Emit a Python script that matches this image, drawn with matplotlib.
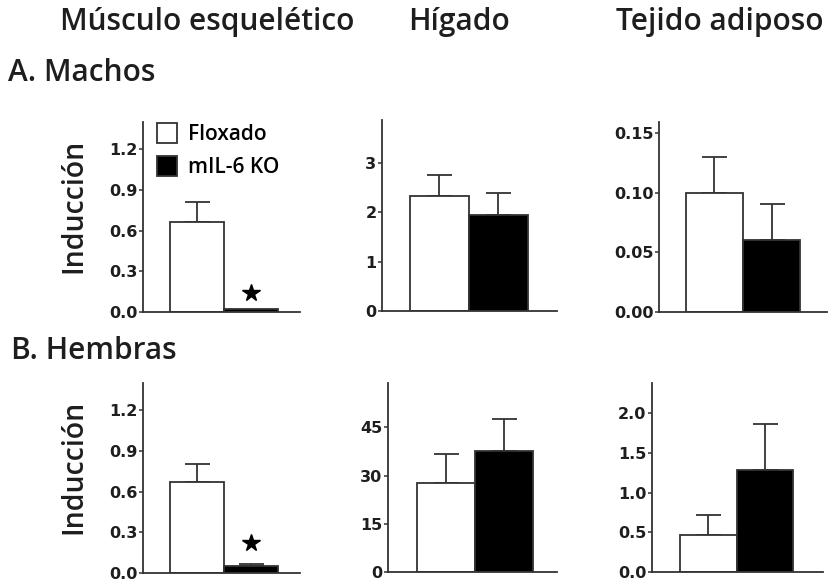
import numpy as np
import matplotlib.pyplot as plt
from matplotlib.patches import Patch

plt.rcParams['font.family'] = ['Open Sans', 'DejaVu Sans']

# Data (mean, upper error)
groups = ['Floxado', 'mIL-6 KO']
tissues = ['Músculo esquelético', 'Hígado', 'Tejido adiposo']

machos_mean = [[0.66, 0.02], [2.32, 1.95], [0.100, 0.060]]
machos_err = [[0.15, 0.00], [0.44, 0.44], [0.030, 0.030]]
hembras_mean = [[0.67, 0.05], [27.6, 37.7], [0.46, 1.28]]
hembras_err = [[0.13, 0.02], [9.1, 9.9], [0.26, 0.59]]

machos_ticks = [[0.0, 0.3, 0.6, 0.9, 1.2], [0, 1, 2, 3], [0.00, 0.05, 0.10, 0.15]]
machos_labels = [['0.0', '0.3', '0.6', '0.9', '1.2'], ['0', '1', '2', '3'],
                 ['0.00', '0.05', '0.10', '0.15']]
machos_ylim = [1.4, 3.87, 0.159]
hembras_ticks = [[0.0, 0.3, 0.6, 0.9, 1.2], [0, 15, 30, 45], [0.0, 0.5, 1.0, 1.5, 2.0]]
hembras_labels = [['0.0', '0.3', '0.6', '0.9', '1.2'], ['0', '15', '30', '45'],
                  ['0.0', '0.5', '1.0', '1.5', '2.0']]
hembras_ylim = [1.4, 58.8, 2.38]
star_y = [0.14, 0.22]   # significance star above KO in muscle

W, H = 831, 583
fig = plt.figure(figsize=(W / 100, H / 100), dpi=100)

def px_axes(left, right, top, bottom):
    return fig.add_axes([left / W, 1 - bottom / H, (right - left) / W, (bottom - top) / H])

# axes boxes in pixels: (left, right, top, bottom)
top_boxes = [(143, 300, 122, 312), (382, 557, 120, 311), (659, 827, 122, 312)]
bot_boxes = [(143, 300, 383, 573), (388, 557, 383, 572), (652, 823, 383, 572)]
xlims = [[(-0.5, 2.4), (-0.47, 2.49), (-0.47, 2.47)],
         [(-0.5, 2.4), (-0.5, 2.41), (-0.5, 2.53)]]

colors = ['white', 'black']
edge = '#333333'
txt = '#1e1e1e'

def draw(ax, mean, err, ticks, labels, ylim, xl):
    for i in range(2):
        ax.bar(i, mean[i], width=1, align='edge', color=colors[i], edgecolor=edge,
               linewidth=1.3, zorder=2)
        if err[i] > 0:
            ax.errorbar(i + 0.5, mean[i], yerr=[[0], [err[i]]], fmt='none',
                        ecolor=edge, elinewidth=1.3, capsize=9, capthick=1.3, zorder=1)
    ax.set_xlim(*xl)
    ax.set_ylim(0, ylim)
    ax.set_yticks(ticks)
    ax.set_yticklabels(labels, fontsize=11.5, fontweight='bold', family='DejaVu Sans',
                       color=txt)
    ax.set_xticks([])
    for s in ['top', 'right']:
        ax.spines[s].set_visible(False)
    for s in ['left', 'bottom']:
        ax.spines[s].set_linewidth(1.3)
        ax.spines[s].set_color(edge)
    ax.tick_params(axis='y', length=3, width=1.1, color=edge, pad=1)

axes_top = []
axes_bot = []
for k in range(3):
    ax = px_axes(*top_boxes[k])
    draw(ax, machos_mean[k], machos_err[k], machos_ticks[k], machos_labels[k],
         machos_ylim[k], xlims[0][k])
    axes_top.append(ax)
    ax = px_axes(*bot_boxes[k])
    draw(ax, hembras_mean[k], hembras_err[k], hembras_ticks[k], hembras_labels[k],
         hembras_ylim[k], xlims[1][k])
    axes_bot.append(ax)

# stars on muscle KO bars
axes_top[0].plot(1.5, star_y[0], marker='*', color='black', markersize=13, zorder=3)
axes_bot[0].plot(1.5, star_y[1], marker='*', color='black', markersize=13, zorder=3)

for ax in (axes_top[0], axes_bot[0]):
    ax.set_ylabel('Inducción', fontsize=20.5, fontweight='semibold', color=txt)
    ax.yaxis.set_label_coords(-0.35, 0.56)

handles = [Patch(facecolor=c, edgecolor=edge, linewidth=1.3) for c in colors]
axes_top[0].legend(handles, groups, loc='upper left', bbox_to_anchor=(0.035, 1.04),
                   frameon=False, prop={'size': 15, 'weight': 'semibold'},
                   handlelength=0.95, handleheight=1.15,
                   handletextpad=0.55, labelspacing=0.5, borderaxespad=0)

# column titles and row labels
title_x = [207, 459, 720]
for k in range(3):
    fig.text(title_x[k] / W, 1 - 22 / H, tissues[k], fontsize=21.5, fontweight='semibold',
             ha='center', va='center', color=txt)
fig.text(8 / W, 1 - 73 / H, 'A. Machos', fontsize=21.5, fontweight='semibold',
         ha='left', va='center', color=txt)
fig.text(11 / W, 1 - 351 / H, 'B. Hembras', fontsize=21.5, fontweight='semibold',
         ha='left', va='center', color=txt)

fig.savefig('out.png', dpi=100)
